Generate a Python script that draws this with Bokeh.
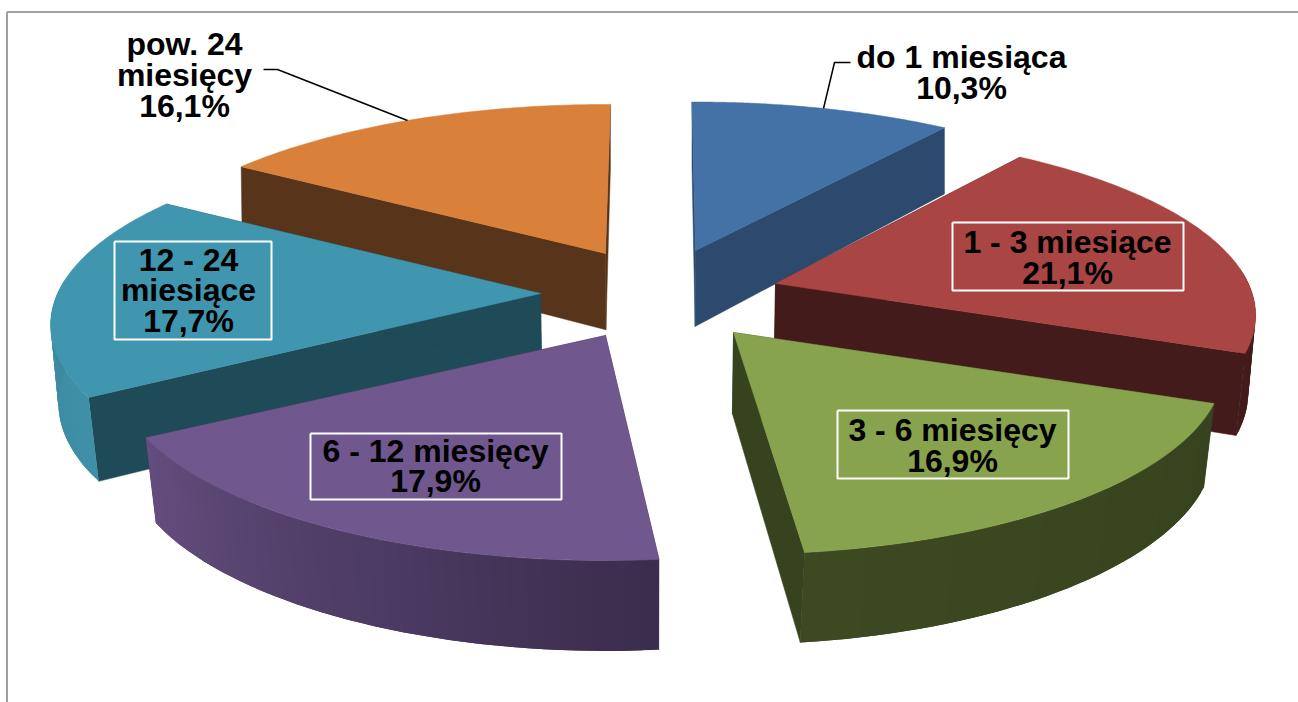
import numpy as np
from bokeh.plotting import figure
from bokeh.models import Range1d
from bokeh.core.properties import value
from bokeh.embed import file_html
from bokeh.resources import INLINE

# ---- data ----
categories = ["do 1 miesiąca", "1 - 3 miesiące", "3 - 6 miesięcy", "6 - 12 miesięcy", "12 - 24 miesiące", "pow. 24 miesięcy"]
shares = [10.3, 21.1, 16.9, 17.9, 17.7, 16.1]
share_labels = ["10,3%", "21,1%", "16,9%", "17,9%", "17,7%", "16,1%"]

# ---- styles ----
top_colors = ["#4471A6", "#A94543", "#88A34D", "#70578E", "#4096AE", "#D9813B"]
face_colors = ["#2C4A6E", "#431B1A", "#37431E", "#3B3048", "#1F4A57", "#58341A"]
side_from = ["#2C4A6E", "#431B1A", "#37431E", "#3B2D4D", "#3F90A7", "#58341A"]
side_to = ["#2C4A6E", "#431B1A", "#3C4921", "#634D7E", "#3A8297", "#58341A"]

# ---- layout of the projected exploded pie ----
RX, RY, K = 480.0, 180.0, 0.2
slice_apex = [(695, 250), (775, 283), (733, 332), (605, 335), (540, 293), (605, 253)]
# small per-slice corrections of the view: rotation in degrees, radius scale, vertical arc shift
slice_rot = [-0.5, 0.0, -0.7, 1.0, -1.3, 0.7]
slice_scale = [1.01, 0.98, 1.0, 1.0, 1.0, 1.0]
slice_arc_dy = [3, -5, -3, 0, -6, 1]
draw_order = [5, 0, 4, 1, 3, 2]
VANISH_X = 650.0


def depth(y):
    return 80 + np.where(y > 300, 0.04, 0.08) * (y - 300)


def project(i, theta):
    t = theta + np.radians(slice_rot[i])
    s = slice_scale[i] / (1 + K * np.cos(t))
    x = slice_apex[i][0] + RX * np.sin(t) * s
    y = slice_apex[i][1] - RY * np.cos(t) * s + slice_arc_dy[i]
    return x, y


def lower(x, y):
    f = 1 - 0.018 * np.maximum(0, y - 130) / 270
    return VANISH_X + (x - VANISH_X) * f, y + depth(y)


def mix(c1, c2, t):
    a = [int(c1[j:j + 2], 16) for j in (1, 3, 5)]
    b = [int(c2[j:j + 2], 16) for j in (1, 3, 5)]
    return "#%02x%02x%02x" % tuple(int(round(a[j] + (b[j] - a[j]) * t)) for j in range(3))


p = figure(width=1298, height=702, output_backend="svg", toolbar_location=None,
           x_range=Range1d(0, 1298), y_range=Range1d(702, 0), min_border=0,
           outline_line_color=None, background_fill_color="white", border_fill_color="white")
p.axis.visible = False
p.grid.visible = False

# chart frame
p.line([6.5, 6.5], [702, 11.5], line_color="#a0a0a0", line_width=2)
p.line([6.5, 1298], [11.5, 11.5], line_color="#a0a0a0", line_width=2)

edges = np.radians(np.concatenate([[0], np.cumsum(shares)]) / sum(shares) * 360)

for i in draw_order:
    t0, t1 = edges[i], edges[i + 1]
    ax, ay = slice_apex[i]
    lax, lay = lower(np.array(float(ax)), np.array(float(ay)))
    # radial faces
    for t in (t0, t1):
        x, y = project(i, t)
        lx, ly = lower(x, y)
        p.patch([ax, x, float(lx), float(lax)], [ay, y, float(ly), float(lay)],
                fill_color=face_colors[i], line_color=face_colors[i], line_width=0.5)
    # outer wall, strip by strip with a gradient; each strip runs under the next one
    th = np.linspace(t0, t1, 41)
    n_strips = len(th) - 1
    for n in range(n_strips):
        if np.cos(th[n]) > 0.05 and np.cos(th[n + 1]) > 0.05:
            continue
        seg = th[n:n + 3]
        x, y = project(i, seg)
        lx, ly = lower(x, y)
        c = mix(side_from[i], side_to[i], n / (n_strips - 1))
        p.patch(list(x) + list(lx[::-1]), list(y) + list(ly[::-1]), fill_color=c, line_color=None)
    # top surface
    th = np.linspace(t0, t1, 80)
    x, y = project(i, th)
    p.patch([ax] + list(x), [ay] + list(y), fill_color=top_colors[i], line_color=top_colors[i], line_width=0.5)

# leader lines
p.line([823, 834, 850], [108, 62, 62], line_color="black", line_width=1.5)
p.line([263, 277, 407], [69, 69, 120], line_color="black", line_width=1.5)

# label boxes
for x0, x1, y0, y1 in [(952, 1183, 222, 290), (837, 1068, 410, 478), (310, 561, 433, 499), (114, 271, 241, 339)]:
    p.line([x0, x1, x1, x0, x0], [y0, y0, y1, y1, y0], line_color="white", line_width=2)

# labels
label_lines = [
    ([categories[0], share_labels[0]], 961, [56, 87]),
    ([categories[1], share_labels[1]], 1067, [241, 272]),
    ([categories[2], share_labels[2]], 952, [429, 460]),
    ([categories[3], share_labels[3]], 435, [450, 480]),
    (["12 - 24", "miesiące", share_labels[4]], 188, [259, 289, 320]),
    (["pow. 24", "miesięcy", share_labels[5]], 184, [43, 74, 105]),
]
for lines, cx, ys in label_lines:
    p.text(x=[cx] * len(lines), y=ys, text=lines, text_font=value("Liberation Sans"), text_font_style="bold",
           text_font_size="32px", text_align="center", text_baseline="middle", text_color="black")

open("out.html", "w").write(file_html(p, INLINE))
